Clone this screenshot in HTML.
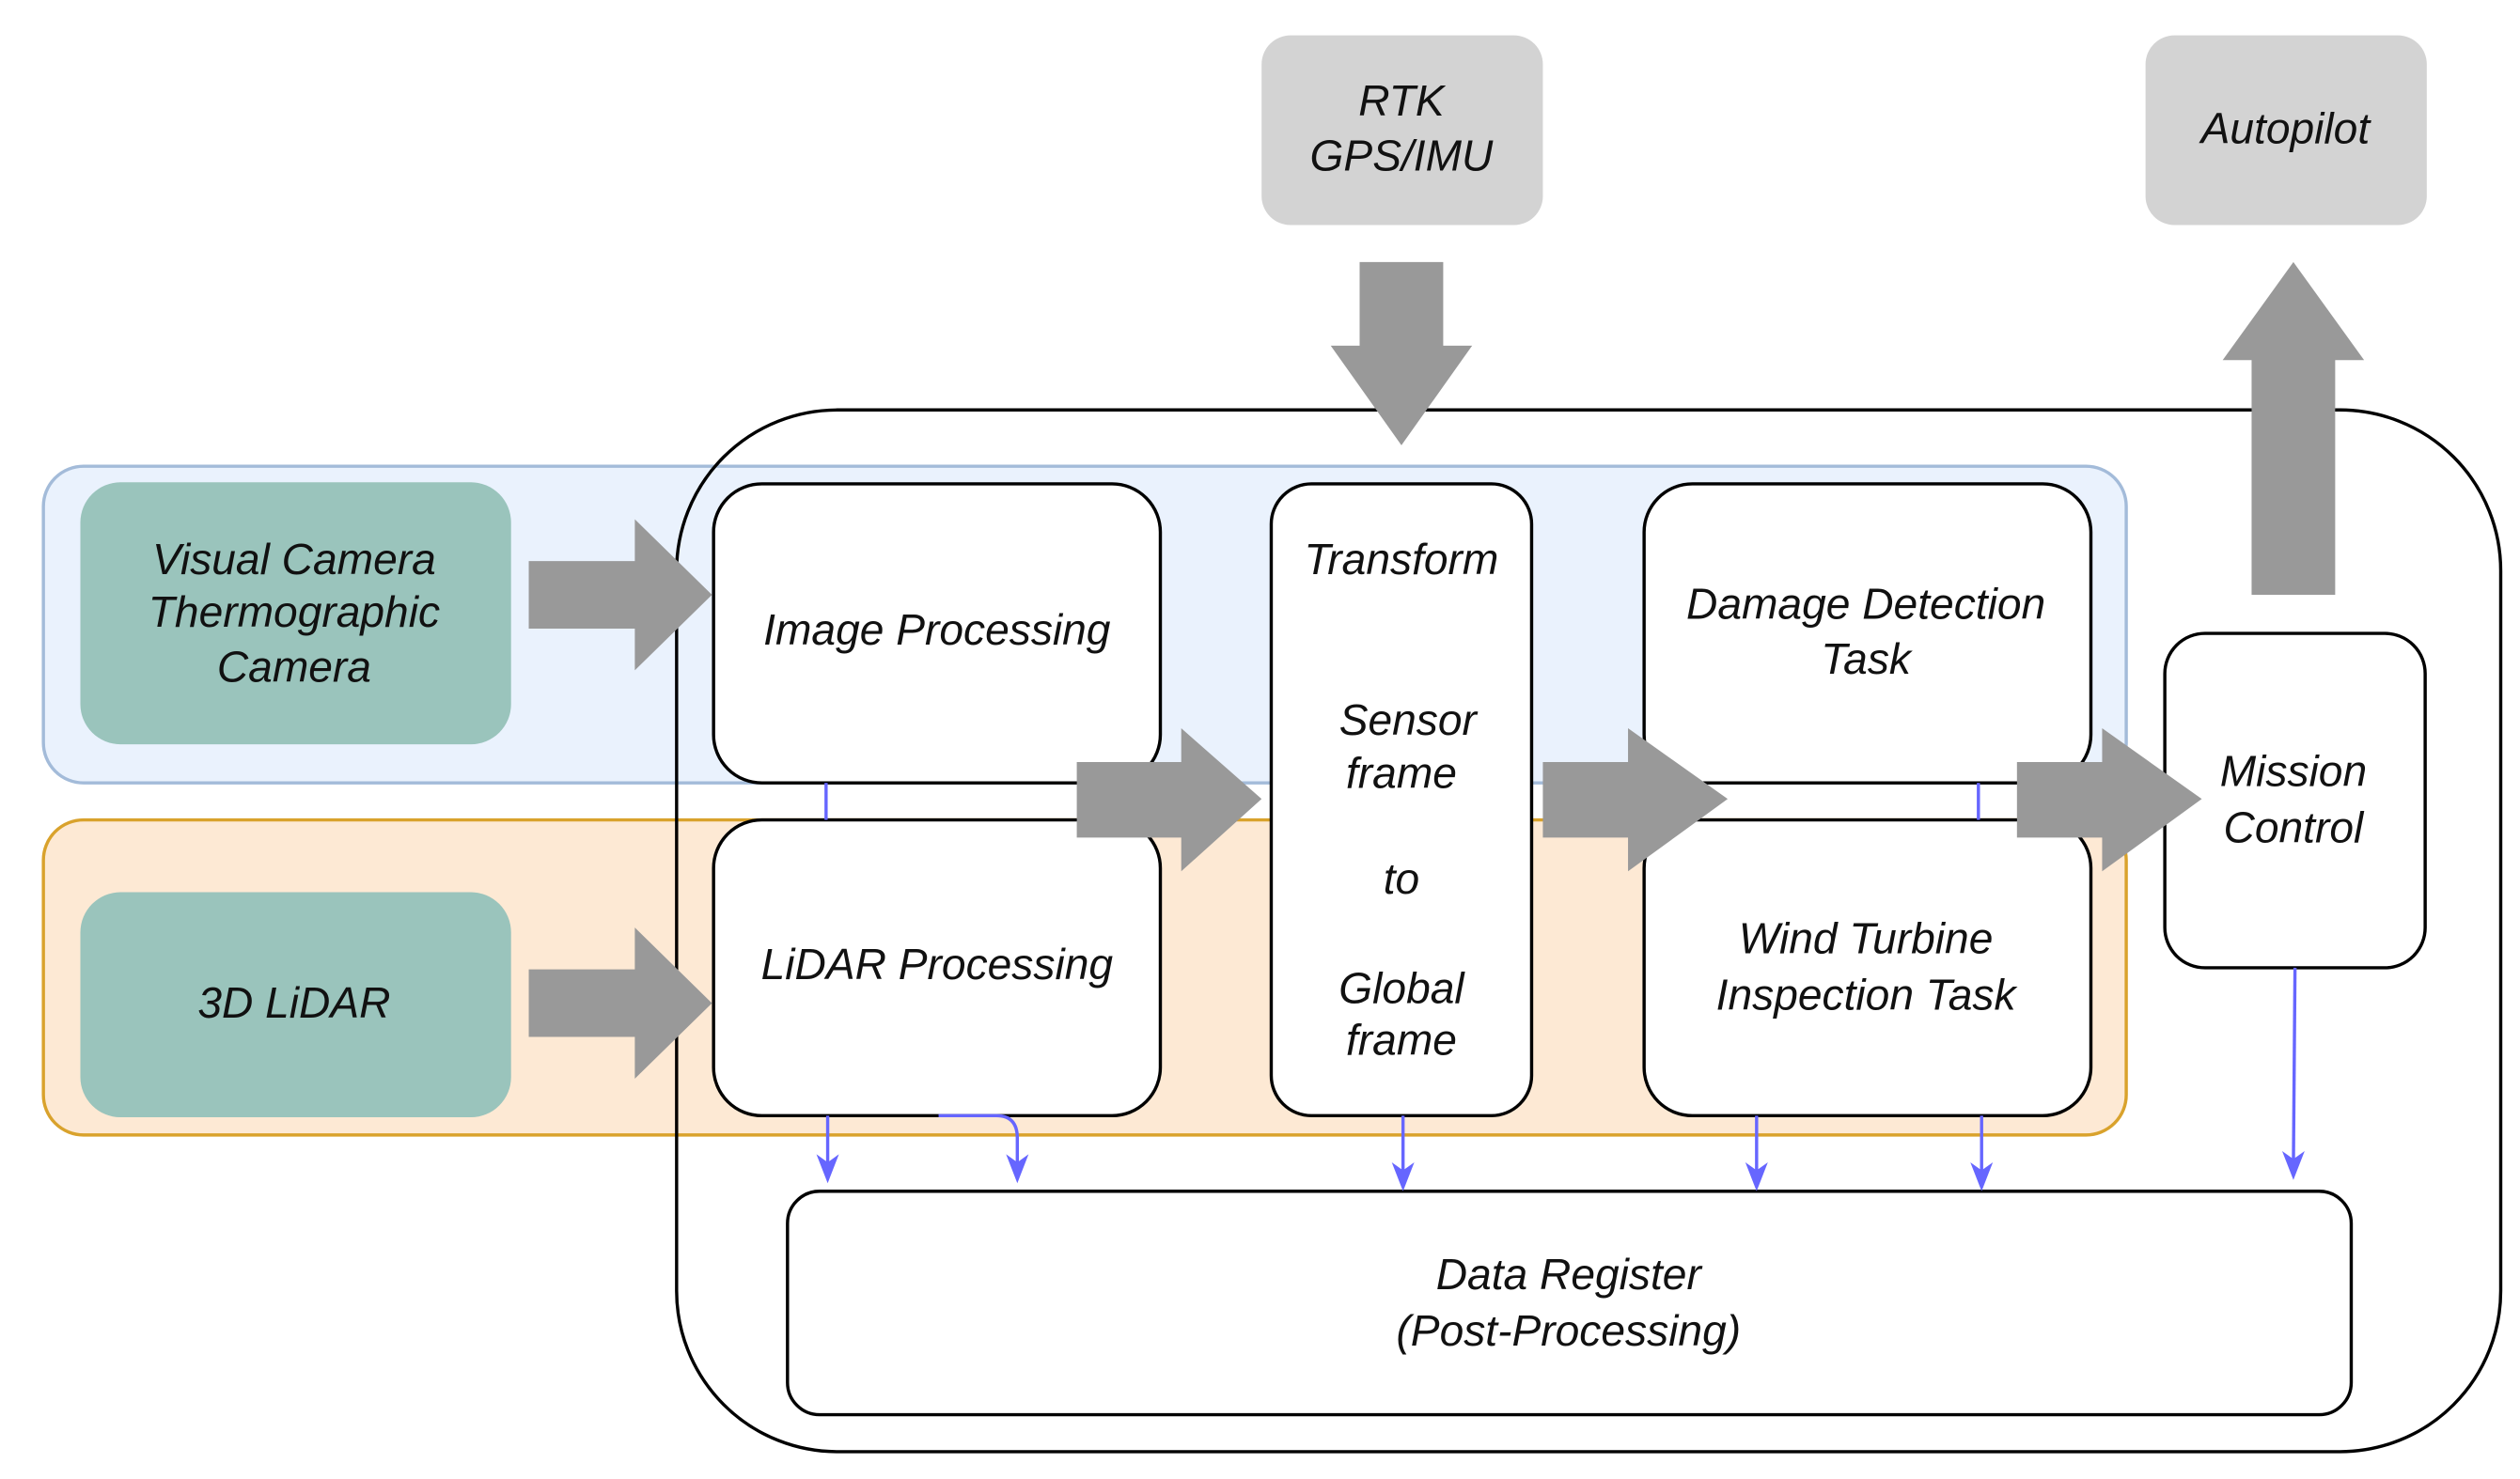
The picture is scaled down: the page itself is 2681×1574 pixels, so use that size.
<!DOCTYPE html>
<html><head><meta charset="utf-8"><style>html,body{margin:0;padding:0;background:#fff}svg{display:block}text{font-family:"Liberation Sans","DejaVu Sans",sans-serif;font-style:italic;font-size:27px;fill:#111;text-anchor:middle}</style></head><body>
<svg width="2681" height="1574" viewBox="0 0 1568 920" preserveAspectRatio="none" xmlns="http://www.w3.org/2000/svg">
<rect x="785" y="22" width="175" height="118" rx="18" fill="#d3d3d3"/>
<text x="872" y="72">RTK</text><text x="872" y="106">GPS/IMU</text>
<rect x="1335" y="22" width="175" height="118" rx="18" fill="#d3d3d3"/>
<text x="1422" y="89">Autopilot</text>
<rect x="27" y="290" width="1296" height="197" rx="25" fill="#eaf2fd" stroke="#a3bbd9" stroke-width="2"/>
<rect x="27" y="510" width="1296" height="196" rx="25" fill="#fde9d4" stroke="#d9a22c" stroke-width="2"/>
<rect x="421" y="255" width="1135" height="648" rx="100" fill="none" stroke="#000" stroke-width="2"/>
<rect x="50" y="300" width="268" height="163" rx="25" fill="#9ac4bc"/>
<text x="183" y="357">Visual Camera</text><text x="183" y="390">Thermographic</text><text x="183" y="424">Camera</text>
<rect x="50" y="555" width="268" height="140" rx="25" fill="#9ac4bc"/>
<text x="183" y="633">3D LiDAR</text>
<g fill="#fff" stroke="#000" stroke-width="2">
<rect x="444" y="301" width="278" height="186" rx="30"/>
<rect x="444" y="510" width="278" height="184" rx="30"/>
<rect x="791" y="301" width="162" height="393" rx="25"/>
<rect x="1023" y="301" width="278" height="186" rx="30"/>
<rect x="1023" y="510" width="278" height="184" rx="30"/>
<rect x="1347" y="394" width="162" height="208" rx="25"/>
<rect x="490" y="741" width="973" height="139" rx="20"/>
</g>
<text x="583" y="401">Image Processing</text>
<text x="583" y="609">LiDAR Processing</text>
<text x="872" y="357">Transform</text>
<text x="876" y="457">Sensor</text><text x="872" y="490">frame</text>
<text x="872" y="556">to</text>
<text x="872" y="624">Global</text><text x="872" y="656">frame</text>
<text x="1161" y="385">Damage Detection</text><text x="1161" y="419">Task</text>
<text x="1161" y="593">Wind Turbine</text><text x="1161" y="628">Inspection Task</text>
<text x="1427" y="489">Mission</text><text x="1427" y="524">Control</text>
<text x="976" y="802">Data Register</text><text x="976" y="837">(Post-Processing)</text>
<g fill="#999">
<path d="M329,349 H395 V323 L443,370 L395,417 V391 H329 Z"/>
<path d="M329,603 H395 V577 L443,624 L395,671 V645 H329 Z"/>
<path d="M670,474 H735 V453 L785,497 L735,542 V521 H670 Z"/>
<path d="M960,474 H1013 V453 L1075,497 L1013,542 V521 H960 Z"/>
<path d="M1255,474 H1308 V453 L1370,497 L1308,542 V521 H1255 Z"/>
<path d="M846,163 H898 V215 H916 L872,277 L828,215 H846 Z"/>
<path d="M1401,370 H1453 V224 H1471 L1427,163 L1383,224 H1401 Z"/>
</g>
<g stroke="#6666ff" stroke-width="2" fill="none">
<path d="M514,487 V510"/><path d="M1231,487 V510"/>
<path d="M515,694 V728"/>
<path d="M584,694 H620 Q633,694 633,708 V728"/>
<path d="M873,694 V733"/>
<path d="M1093,694 V733"/>
<path d="M1233,694 V733"/>
<path d="M1428,602 L1427,726"/>
</g>
<g fill="#6666ff">
<path d="M508,718 L515,736 L522,718 L515,723 Z"/>
<path d="M626,718 L633,736 L640,718 L633,723 Z"/>
<path d="M866,723 L873,741 L880,723 L873,728 Z"/>
<path d="M1086,723 L1093,741 L1100,723 L1093,728 Z"/>
<path d="M1226,723 L1233,741 L1240,723 L1233,728 Z"/>
<path d="M1420,716 L1427,734 L1434,716 L1427,721 Z"/>
</g>
</svg>
</body></html>
